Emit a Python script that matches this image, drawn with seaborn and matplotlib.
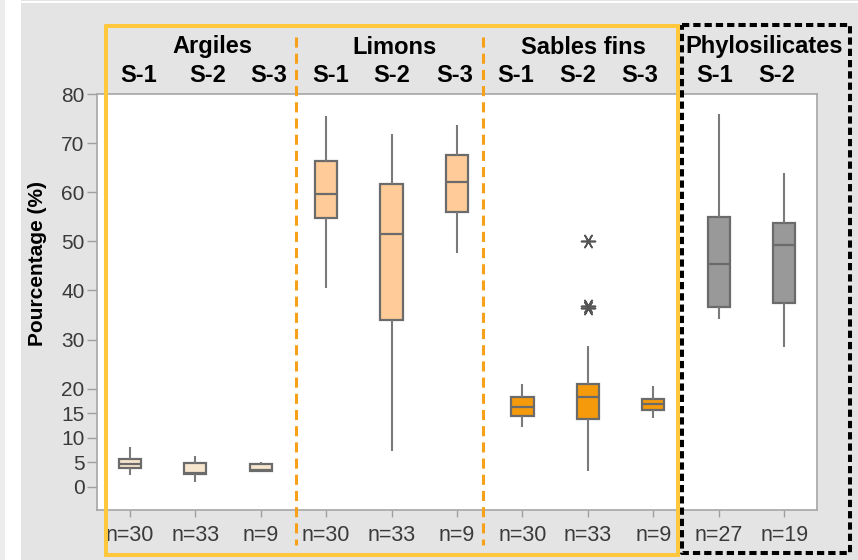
import numpy as np
import pandas as pd
import matplotlib
matplotlib.use("Agg")
import matplotlib.pyplot as plt
import matplotlib.transforms as mtransforms
from matplotlib.lines import Line2D
from matplotlib.patches import Rectangle
import seaborn as sns

# ---- data -------------------------------------------------------------
groups = ["Argiles", "Limons", "Sables fins", "Phylosilicates"]
group_of = ["Argiles"] * 3 + ["Limons"] * 3 + ["Sables fins"] * 3 + ["Phylosilicates"] * 2
samples = ["S-1", "S-2", "S-3", "S-1", "S-2", "S-3", "S-1", "S-2", "S-3", "S-1", "S-2"]
counts = [30, 33, 9, 30, 33, 9, 30, 33, 9, 27, 19]

# five-number summaries of each box (%)
whisker_low = [2.5, 1.0, 3.2, 40.6, 7.4, 47.6, 12.2, 3.2, 14.0, 34.2, 28.5]
quartile_1 = [3.8, 2.6, 3.2, 54.8, 33.9, 55.9, 14.4, 13.8, 15.7, 36.7, 37.4]
medians = [4.7, 2.9, 3.4, 59.6, 51.4, 62.1, 16.3, 18.4, 16.9, 45.3, 49.3]
quartile_3 = [5.7, 4.9, 4.6, 66.4, 61.6, 67.5, 18.4, 20.9, 17.8, 55.0, 53.8]
whisker_high = [8.2, 6.3, 5.1, 75.6, 71.9, 73.7, 21.0, 28.6, 20.6, 76.0, 64.0]

# outliers
outlier_group = ["Sables fins", "Sables fins", "Sables fins"]
outlier_sample = ["S-2", "S-2", "S-2"]
outlier_values = [50.1, 36.5, 36.8]

group_colors = {
    "Argiles": "#F6E6CE",
    "Limons": "#FFCC99",
    "Sables fins": "#F59A0B",
    "Phylosilicates": "#999999",
}

y_ticks = [0, 5, 10, 15, 20, 30, 40, 50, 60, 70, 80]

# ---- long-form table ---------------------------------------------------
labels = [f"{g} {s}" for g, s in zip(group_of, samples)]
rows = []
for lab, lo, q1, md, q3, hi in zip(labels, whisker_low, quartile_1, medians,
                                   quartile_3, whisker_high):
    for v in (lo, q1, md, q3, hi):
        rows.append({"box": lab, "value": v})
df = pd.DataFrame(rows)
out_df = pd.DataFrame({
    "box": [f"{g} {s}" for g, s in zip(outlier_group, outlier_sample)],
    "value": outlier_values,
})
palette = [group_colors[g] for g in group_of]

# ---- figure ------------------------------------------------------------
W, H = 858, 560
sns.set_style("white")
plt.rcParams["font.family"] = ["Liberation Sans", "DejaVu Sans"]

fig = plt.figure(figsize=(W / 100, H / 100), dpi=100, facecolor="#e4e4e4")


def fx(px):
    return px / W


def fy(py):
    return 1 - py / H


# outer page strips
fig.add_artist(Rectangle((0, 0), fx(5), 1, transform=fig.transFigure,
                         facecolor="#ececec", edgecolor="none", zorder=0))
fig.add_artist(Rectangle((fx(5), 0), fx(16), 1, transform=fig.transFigure,
                         facecolor="white", edgecolor="none", zorder=0))
fig.add_artist(Rectangle((fx(21), fy(3)), 1, fx(3), transform=fig.transFigure,
                         facecolor="white", edgecolor="none", zorder=0))

ax = fig.add_axes([fx(97), fy(510), fx(817) - fx(97), fy(94) - fy(510)])
ax.set_facecolor("white")

sns.boxplot(
    data=df, x="box", y="value", hue="box", order=labels, hue_order=labels,
    palette=palette, saturation=1, width=0.34, whis=(0, 100),
    showcaps=False, showfliers=False, linewidth=1.6, linecolor="#6b6b6b",
    whiskerprops=dict(color="#7a7a7a", linewidth=1.5),
    legend=False, ax=ax,
)
# six-armed asterisk with a horizontal bar for the outliers
sns.stripplot(
    data=out_df, x="box", y="value", order=labels, jitter=False,
    marker=(6, 2, 90), size=10, linewidth=1.2, color="#555555",
    edgecolor="#555555", ax=ax,
)

ax.set_xlim(-0.5, 10.5)
ax.set_ylim(-4.7, 80)
ax.set_yticks(y_ticks)
ax.set_yticklabels([str(t) for t in y_ticks])
ax.set_xticks(range(len(labels)))
ax.set_xticklabels([f"n={c}" for c in counts])
ax.set_xlabel("")
ax.set_ylabel("")
ax.tick_params(axis="y", length=7, width=1, color="#a0a0a0", pad=2,
               labelsize=15, labelcolor="#3a3a3a", left=True)
ax.tick_params(axis="x", length=5, width=1, color="#a0a0a0", pad=6,
               labelsize=15.5, labelcolor="#3a3a3a", bottom=True)
for sp in ax.spines.values():
    sp.set_visible(True)
    sp.set_color("#a6a6a6")
    sp.set_linewidth(1.2)

fig.text(fx(38), fy(264), "Pourcentage (%)", rotation=90, ha="center",
         va="center", fontsize=15, fontweight="bold", color="black")

# ---- panel headers -----------------------------------------------------
hdr = mtransforms.blended_transform_factory(ax.transData, fig.transFigure)
group_label_x = [1.26, 4.05, 6.93, 9.69]
for g, x in zip(groups, group_label_x):
    ax.text(x, fy(47), g, transform=hdr, ha="center", va="center",
            fontsize=17, fontweight="bold", color="black", clip_on=False)
sample_label_x = [0.13, 1.19, 2.13, 3.07, 4.0, 4.97, 5.89, 6.84, 7.79, 8.94, 9.89]
for s, x in zip(samples, sample_label_x):
    ax.text(x, fy(76), s, transform=hdr, ha="center", va="center",
            fontsize=17, fontweight="bold", color="black", clip_on=False)

# ---- frames around the granulometric and clay-mineral panels ------------
def fig_line(xs, ys, **kw):
    fig.add_artist(Line2D([fx(v) for v in xs], [fy(v) for v in ys],
                          transform=fig.transFigure, **kw))


yellow = "#FFC83C"
fig_line([106, 677.5, 677.5, 106, 106], [26, 26, 555, 555, 26],
         color=yellow, linewidth=2.9, solid_joinstyle="miter", zorder=5)

for xv in (296, 483):
    fig_line([xv, xv], [37, 545], color="#F7A01A", linewidth=2.2,
             dashes=(3.3, 2.0), zorder=5)

fig_line([682, 850, 850, 682, 682], [24.7, 24.7, 552.5, 552.5, 24.7],
         color="black", linewidth=2.9, dashes=(1.8, 1.0), zorder=6)

fig.savefig("out.png", dpi=100, facecolor=fig.get_facecolor())
